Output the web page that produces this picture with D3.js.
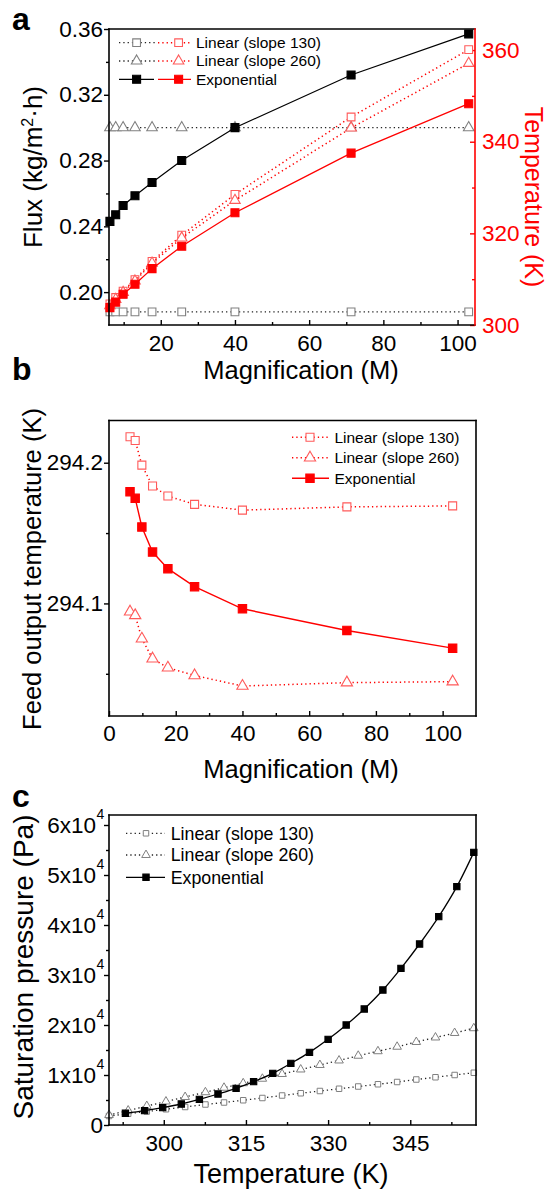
<!DOCTYPE html>
<html>
<head>
<meta charset="utf-8">
<title>Flux, feed temperature and saturation pressure</title>
<script src="https://d3js.org/d3.v7.min.js"></script>
<style>
  body { margin: 0; background: #fff; }
  svg { font-family: "Liberation Sans", Arial, sans-serif; }
</style>
</head>
<body>
<svg id="chart" width="549" height="1197"></svg>
<script>
// magnification values, shared by panels a and b
const mag = [6.3, 7.85, 9.85, 13.05, 17.65, 25.65, 40, 71.3, 103];

// panel a, left axis: flux
const fluxLin130 = [0.188, 0.188, 0.188, 0.188, 0.188, 0.188, 0.188, 0.188, 0.188];
const fluxLin260 = [0.300, 0.300, 0.300, 0.300, 0.300, 0.300, 0.300, 0.300, 0.300];
const fluxExp    = [0.243, 0.247, 0.2527, 0.2586, 0.2667, 0.280, 0.300, 0.332, 0.357];
// panel a, right axis: temperature
const tempLin130 = [304.6, 306.0, 307.4, 309.9, 313.9, 319.6, 328.5, 345.4, 360.1];
const tempLin260 = [304.2, 305.6, 307.1, 309.6, 313.5, 319.0, 327.2, 343.0, 357.1];
const tempExp    = [303.8, 305.0, 306.7, 308.9, 312.3, 317.2, 324.5, 337.5, 348.3];

// panel b: feed output temperature
const feedLin130 = [294.2185, 294.2158, 294.1983, 294.1834, 294.1763, 294.1704, 294.1663, 294.1686, 294.1693];
const feedLin260 = [294.0941, 294.0915, 294.0749, 294.0607, 294.0543, 294.0488, 294.0413, 294.0437, 294.0444];
const feedExp    = [294.1794, 294.1747, 294.1543, 294.1365, 294.1247, 294.1119, 294.0962, 294.0808, 294.0682];

// panel c: saturation pressure vs temperature
const tempC   = [290.0, 293.5, 296.9, 300.4, 303.9, 307.6, 311.0, 314.5, 318.0, 321.6,
                 325.0, 328.5, 332.0, 335.5, 339.1, 342.6, 346.1, 349.6, 353.1, 356.6];
const pLin130 = [1800, 2250, 2700, 3150, 3600, 4100, 4500, 4950, 5400, 5900,
                 6350, 6800, 7250, 7700, 8150, 8600, 9100, 9550, 10000, 10450];
const pLin260 = [2000, 2900, 3800, 4700, 5600, 6550, 7450, 8350, 9250, 10200,
                 11100, 12000, 12900, 13850, 14750, 15650, 16600, 17500, 18400, 19350];
const tempExpC = [293.0, 296.5, 299.8, 303.2, 306.5, 309.9, 313.2, 316.4, 319.9, 323.2,
                  326.6, 330.0, 333.3, 336.6, 340.0, 343.3, 346.7, 350.2, 353.5, 356.6];
const pExp    = [2340, 2870, 3470, 4200, 5130, 6200, 7330, 8670, 10330, 12330,
                 14530, 17130, 20000, 23200, 27000, 31330, 36200, 41670, 47670, 54530];

// tick values
const ticksA_x = [20, 40, 60, 80, 100], minorA_x = [10, 30, 50, 70, 90];
const ticksA_y = [0.20, 0.24, 0.28, 0.32, 0.36], minorA_y = [0.22, 0.26, 0.30, 0.34];
const ticksA_t = [300, 320, 340, 360], minorA_t = [310, 330, 350];
const ticksB_x = [0, 20, 40, 60, 80, 100], minorB_x = [10, 30, 50, 70, 90];
const ticksB_y = [294.1, 294.2], minorB_y = [294.05, 294.15];
const ticksC_x = [300, 315, 330, 345], minorC_x = [292.5, 307.5, 322.5, 337.5, 352.5];
const ticksC_y = [0, 10000, 20000, 30000, 40000, 50000, 60000];
const minorC_y = [5000, 15000, 25000, 35000, 45000, 55000];

const svg = d3.select("#chart");
const RED = "#ff0000", PINK = "#ff5a5a", GREY = "#808080", DOT = "#222";
const dots = "1.3,3";

function markers(g, xs, ys, sx, sy, o) {
  const sym = d3.symbol().type(o.sym === "tri" ? d3.symbolTriangle : d3.symbolSquare).size(o.size);
  g.selectAll(null).data(xs).enter().append("path")
    .attr("d", sym)
    .attr("transform", (d, i) => `translate(${sx(d)},${sy(ys[i])})`)
    .attr("fill", o.fill).attr("stroke", o.mstroke).attr("stroke-width", o.sw || 1.1);
}

function series(g, xs, ys, sx, sy, o) {
  const line = d3.line().x(d => sx(d[0])).y(d => sy(d[1])).curve(o.curve || d3.curveLinear);
  g.append("path").datum(xs.map((d, i) => [d, ys[i]]))
    .attr("d", line).attr("fill", "none")
    .attr("stroke", o.stroke).attr("stroke-width", o.width || 1.3)
    .attr("stroke-dasharray", o.dash || null);
  markers(g, xs, ys, sx, sy, o);
}

function legendItem(g, x0, x1, xm, y, o) {
  g.append("line").attr("x1", x0).attr("x2", x1).attr("y1", y).attr("y2", y)
    .attr("stroke", o.stroke).attr("stroke-width", o.width || 1.3)
    .attr("stroke-dasharray", o.dash || null);
  const sym = d3.symbol().type(o.sym === "tri" ? d3.symbolTriangle : d3.symbolSquare).size(o.size);
  g.append("path").attr("d", sym).attr("transform", `translate(${xm},${y})`)
    .attr("fill", o.fill).attr("stroke", o.mstroke).attr("stroke-width", o.sw || 1.1);
}

function legendText(g, x, y, text, fs) {
  g.append("text").attr("x", x).attr("y", y).attr("dy", "0.35em")
    .attr("font-size", fs).text(text);
}

function styleAxis(sel, color, fs) {
  sel.attr("font-family", null).attr("font-size", fs);
  sel.select(".domain").remove();
  sel.selectAll(".tick line").attr("stroke", color).attr("stroke-width", 1.4);
  sel.selectAll(".tick text").attr("fill", color);
}

function xAxis(g, sx, y, major, minor, fmt, pad) {
  g.append("g").attr("transform", `translate(0,${y})`)
    .call(d3.axisBottom(sx).tickValues(major).tickSize(-5).tickPadding(pad).tickFormat(fmt))
    .call(s => styleAxis(s, "#000", 22.5));
  g.append("g").attr("transform", `translate(0,${y})`)
    .call(d3.axisBottom(sx).tickValues(minor).tickSize(-3).tickFormat(""))
    .call(s => styleAxis(s, "#000", 22.5));
}

function yAxisLeft(g, sy, x, major, minor, fmt) {
  g.append("g").attr("transform", `translate(${x},0)`)
    .call(d3.axisLeft(sy).tickValues(major).tickSize(5).tickPadding(1).tickFormat(fmt))
    .call(s => styleAxis(s, "#000", 22.5));
  g.append("g").attr("transform", `translate(${x},0)`)
    .call(d3.axisLeft(sy).tickValues(minor).tickSize(3).tickFormat(""))
    .call(s => styleAxis(s, "#000", 22.5));
}

function frame(g, l, r, t, b, rightColor) {
  const seg = (x1, y1, x2, y2, c) => g.append("line")
    .attr("x1", x1).attr("y1", y1).attr("x2", x2).attr("y2", y2)
    .attr("stroke", c).attr("stroke-width", 1.6).attr("stroke-linecap", "square");
  seg(l, t, r, t, "#000");
  seg(l, b, r, b, "#000");
  seg(l, t, l, b, "#000");
  seg(r, t, r, b, rightColor || "#000");
}

function panelLabel(x, y, t) {
  svg.append("text").attr("x", x).attr("y", y).attr("font-size", 32)
    .attr("font-weight", "bold").text(t);
}

function title(x, y, rot, fs, color) {
  return svg.append("text")
    .attr("transform", `translate(${x},${y}) rotate(${rot})`)
    .attr("text-anchor", "middle").attr("font-size", fs).attr("fill", color || "#000");
}

// ---------------- panel a ----------------
const xA = d3.scaleLinear([6.05, 104.7], [109, 475]);
const yA = d3.scaleLinear([0.18, 0.36], [325, 29]);
const tA = d3.scaleLinear([300, 364.6], [325, 29]);
const gA = svg.append("g");

xAxis(gA, xA, 325, ticksA_x, minorA_x, d3.format("d"), 10);
yAxisLeft(gA, yA, 109, ticksA_y, minorA_y, d3.format(".2f"));
gA.append("g").attr("transform", "translate(475,0)")
  .call(d3.axisRight(tA).tickValues(ticksA_t).tickSize(-5).tickPadding(7).tickFormat(d3.format("d")))
  .call(s => styleAxis(s, RED, 22.5));
gA.append("g").attr("transform", "translate(475,0)")
  .call(d3.axisRight(tA).tickValues(minorA_t).tickSize(-3).tickFormat(""))
  .call(s => styleAxis(s, RED, 22.5));

const oGreySq  = {stroke: DOT, dash: dots, sym: "sq",  size: 60, fill: "#fff", mstroke: GREY};
const oGreyTri = {stroke: DOT, dash: dots, sym: "tri", size: 48, fill: "#fff", mstroke: GREY};
const oBlack   = {stroke: "#000", width: 1.2, sym: "sq", size: 64, fill: "#000", mstroke: "#000"};
const oRedSq   = {stroke: RED, dash: dots, width: 1.5, sym: "sq",  size: 60, fill: "#fff", mstroke: PINK};
const oRedTri  = {stroke: RED, dash: dots, width: 1.5, sym: "tri", size: 48, fill: "#fff", mstroke: PINK};
const oRed     = {stroke: RED, width: 1.3, sym: "sq", size: 64, fill: RED, mstroke: RED};

series(gA, mag, fluxLin130, xA, yA, oGreySq);
series(gA, mag, fluxLin260, xA, yA, oGreyTri);
series(gA, mag, fluxExp, xA, yA, oBlack);
series(gA, mag, tempLin130, xA, tA, oRedSq);
series(gA, mag, tempLin260, xA, tA, oRedTri);
series(gA, mag, tempExp, xA, tA, oRed);
frame(gA, 109, 475, 29, 325, RED);

legendItem(gA, 119, 156, 136.6, 42.7, oGreySq);
legendItem(gA, 158, 191, 178.6, 42.7, oRedSq);
legendItem(gA, 119, 156, 136.6, 61, oGreyTri);
legendItem(gA, 158, 191, 178.6, 61, oRedTri);
legendItem(gA, 119, 154, 136.6, 79.3, oBlack);
legendItem(gA, 158, 191, 178.6, 79.3, oRed);
legendText(gA, 196, 42.7, "Linear (slope 130)", 15.5);
legendText(gA, 196, 61, "Linear (slope 260)", 15.5);
legendText(gA, 196, 79.3, "Exponential", 15.5);

panelLabel(12, 30, "a");
const fluxT = title(42, 167, -90, 26);
fluxT.append("tspan").text("Flux (kg/m");
fluxT.append("tspan").attr("font-size", 16).attr("dy", -9).text("2");
fluxT.append("tspan").attr("dy", 9).text("\u00b7h)");
title(525, 197, 90, 25, RED).text("Temperature (K)");
title(301, 379, 0, 25.5).text("Magnification (M)");

// ---------------- panel b ----------------
const xB = d3.scaleLinear([0, 110], [109, 476]);
const yB = d3.scaleLinear([294.02, 294.23], [716, 420.5]);
const gB = svg.append("g");

xAxis(gB, xB, 716, ticksB_x, minorB_x, d3.format("d"), 9.5);
yAxisLeft(gB, yB, 109, ticksB_y, minorB_y, d3.format(".1f"));

const oBSq  = {stroke: RED, dash: dots, width: 1.5, sym: "sq",  size: 64, fill: "#fff", mstroke: PINK};
const oBTri = {stroke: RED, dash: dots, width: 1.5, sym: "tri", size: 55, fill: "#fff", mstroke: PINK};
const oBExp = {stroke: RED, width: 1.4, sym: "sq", size: 70, fill: RED, mstroke: RED};

series(gB, mag, feedLin130, xB, yB, oBSq);
series(gB, mag, feedLin260, xB, yB, oBTri);
series(gB, mag, feedExp, xB, yB, oBExp);
frame(gB, 109, 476, 420.5, 716);

legendItem(gB, 292, 329, 310, 437.3, oBSq);
legendItem(gB, 292, 329, 310, 457.7, oBTri);
legendItem(gB, 292, 329, 310, 478.3, oBExp);
legendText(gB, 334.4, 437.3, "Linear (slope 130)", 15.5);
legendText(gB, 334.4, 457.7, "Linear (slope 260)", 15.5);
legendText(gB, 334.4, 478.3, "Exponential", 15.5);

panelLabel(12, 380, "b");
title(41, 569, -90, 25.5).text("Feed output temperature (K)");
title(301, 778, 0, 25.5).text("Magnification (M)");

// ---------------- panel c ----------------
const xC = d3.scaleLinear([290, 357], [109, 476]);
const yC = d3.scaleLinear([0, 62000], [1125, 815]);
const gC = svg.append("g");

xAxis(gC, xC, 1125, ticksC_x, minorC_x, d3.format("d"), 10);
yAxisLeft(gC, yC, 109, ticksC_y, minorC_y, () => "");
ticksC_y.forEach(v => {
  const t = gC.append("text").attr("x", v === 0 ? 103 : 96).attr("y", yC(v))
    .attr("dy", "0.35em").attr("text-anchor", "end").attr("font-size", 22.5);
  if (v === 0) { t.text("0"); return; }
  t.text((v / 10000) + "x10");
  gC.append("text").attr("x", 96.5).attr("y", yC(v) - 6).attr("font-size", 14).text("4");
});

const oCSq  = {stroke: DOT, dash: dots, sym: "sq",  size: 30, fill: "#fff", mstroke: GREY, sw: 1};
const oCTri = {stroke: DOT, dash: dots, sym: "tri", size: 32, fill: "#fff", mstroke: GREY, sw: 1};
const oCExp = {stroke: "#000", width: 1.3, sym: "sq", size: 40, fill: "#000", mstroke: "#000", curve: d3.curveMonotoneX};

series(gC, tempC, pLin130, xC, yC, oCSq);
series(gC, tempC, pLin260, xC, yC, oCTri);
series(gC, tempExpC, pExp, xC, yC, oCExp);
frame(gC, 109, 476, 815, 1125);

legendItem(gC, 126, 165, 146, 833.3, oCSq);
legendItem(gC, 126, 165, 146, 855, oCTri);
legendItem(gC, 126, 165, 146, 877.3, oCExp);
legendText(gC, 170.7, 833.3, "Linear (slope 130)", 17.8);
legendText(gC, 170.7, 855, "Linear (slope 260)", 17.8);
legendText(gC, 170.7, 877.3, "Exponential", 17.8);

panelLabel(12, 807, "c");
title(33, 967, -90, 28).text("Saturation pressure (Pa)");
title(291, 1183, 0, 27).text("Temperature (K)");
</script>
</body>
</html>
